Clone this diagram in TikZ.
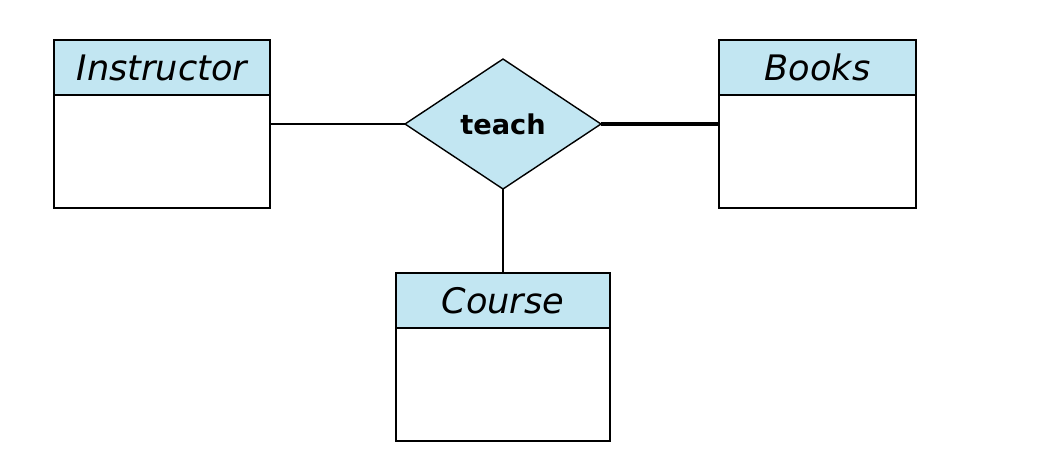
\documentclass[tikz,border=0pt]{standalone}
\usepackage{fontspec}
\setmainfont{DejaVu Sans}
\usetikzlibrary{positioning, shapes.geometric}
\definecolor{erblue}{HTML}{C2E6F2}

\begin{document}
\begin{tikzpicture}[
    x=0.02cm, y=-0.02cm,
    header/.style={rectangle, draw=black, fill=erblue, line width=1pt, inner sep=0pt, outer sep=0pt,
                   minimum width=#1, minimum height=1.1cm, font=\fontsize{20}{24}\selectfont\itshape},
    body/.style={rectangle, draw=black, fill=white, line width=1pt, inner sep=0pt, outer sep=0pt,
                 minimum width=#1, minimum height=2.26cm},
    rel/.style={diamond, draw=black, fill=erblue, line width=0.8pt, inner sep=0pt, outer sep=0pt,
                minimum width=3.92cm, minimum height=2.6cm, font=\fontsize{15.5}{18}\selectfont\bfseries},
    link/.style={line width=0.9pt}
]
    \useasboundingbox (0,0) rectangle (1061,461);

    % Instructor
    \node[header=4.32cm, anchor=north west] (instr) at (54,40) {Instructor};
    \node[body=4.32cm, below=0pt of instr] (instrbody) {};

    % Books
    \node[header=3.94cm, anchor=north west] (books) at (719,40) {Books};
    \node[body=3.94cm, below=0pt of books] (booksbody) {};

    % Course
    \node[header=4.28cm, anchor=north west] (course) at (396,273) {Course};
    \node[body=4.28cm, below=0pt of course] (coursebody) {};

    % Relationship
    \node[rel] (teach) at (503,124) {teach};

    % Connectors
    \draw[link] (teach.west) -- (teach.west -| instrbody.east);
    \draw[line width=2pt] (teach.east) -- (teach.east -| booksbody.west);
    \draw[link] (teach.south) -- (teach.south |- course.north);

\end{tikzpicture}
\end{document}
